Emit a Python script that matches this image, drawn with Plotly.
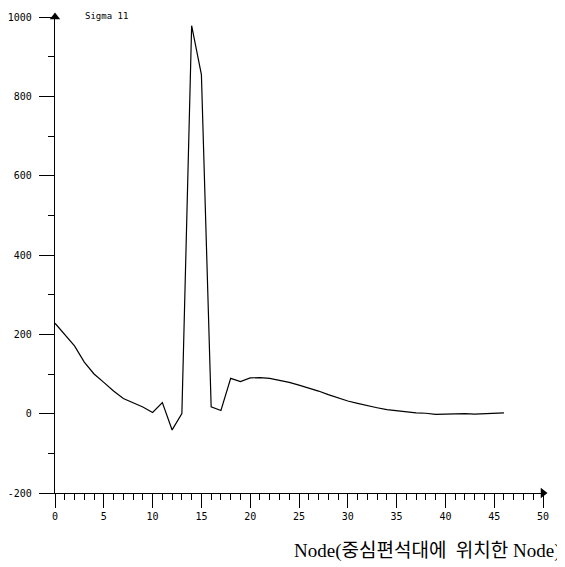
import plotly.graph_objects as go

nodes = list(range(0, 47))
sigma11 = [228, 200, 171, 130, 100, 79, 57, 38, 27, 17,
           3, 28, -41, 0, 978, 855, 17, 8, 89, 81,
           90, 91, 89, 84, 79, 72, 65, 57, 48, 40,
           32, 26, 20, 15, 10, 7, 5, 2, 1, -2,
           -1, 0, 0, -1, 0, 1, 2]

y_ticks = [-200, 0, 200, 400, 600, 800, 1000]
y_ticklabels = ["-200", "0", "200", "400", "600", "800", "1000"]
x_ticks = [0, 5, 10, 15, 20, 25, 30, 35, 40, 45, 50]
x_ticklabels = ["0", "5", "10", "15", "20", "25", "30", "35", "40", "45", "50"]

tickfont = dict(family="DejaVu Sans Mono", size=10, color="black")

fig = go.Figure()
fig.add_trace(go.Scatter(x=nodes, y=sigma11, mode="lines",
                         line=dict(color="black", width=1.2),
                         showlegend=False, hoverinfo="skip"))
# axis arrowheads
fig.add_trace(go.Scatter(x=[0], y=[1000], mode="markers",
                         marker=dict(symbol="triangle-up", size=9, color="black"),
                         cliponaxis=False, showlegend=False, hoverinfo="skip"))
fig.add_trace(go.Scatter(x=[50], y=[-200], mode="markers",
                         marker=dict(symbol="triangle-right", size=9, color="black"),
                         cliponaxis=False, showlegend=False, hoverinfo="skip"))

fig.update_layout(
    width=565, height=567,
    margin=dict(l=47, r=30, t=9, b=82, autoexpand=False),
    paper_bgcolor="white", plot_bgcolor="white",
    xaxis=dict(range=[0, 50], showgrid=False, zeroline=False, automargin=False,
               showline=True, linecolor="black", linewidth=1.2,
               tickmode="array", tickvals=x_ticks, ticktext=x_ticklabels,
               ticks="outside", ticklen=14, tickwidth=1.2, tickcolor="black",
               tickfont=tickfont,
               minor=dict(dtick=1, tick0=0, ticks="outside", ticklen=6,
                          tickwidth=1, tickcolor="black")),
    yaxis=dict(range=[-200, 1000], showgrid=False, zeroline=False, automargin=False,
               showline=True, linecolor="black", linewidth=1.2,
               tickmode="array", tickvals=y_ticks, ticktext=y_ticklabels,
               ticks="outside", ticklen=15, tickwidth=1.2, tickcolor="black",
               tickfont=tickfont, ticklabelstandoff=5,
               minor=dict(dtick=100, tick0=0, ticks="outside", ticklen=6,
                          tickwidth=1, tickcolor="black")),
    annotations=[
        dict(text="Sigma 11", xref="x", x=2.9, xanchor="left",
             yref="paper", y=1, yanchor="middle", yshift=1,
             showarrow=False,
             font=dict(family="DejaVu Sans Mono", size=9, color="black")),
        dict(text="Node(중심편석대에\u00a0 위치한 Node)", xref="paper", x=1,
             xanchor="right", xshift=20, yref="paper", y=0,
             yanchor="middle", yshift=-58, showarrow=False,
             font=dict(family="Liberation Serif, Noto Sans CJK KR", size=19,
                       color="black")),
    ],
)

fig.write_html("out.html")
